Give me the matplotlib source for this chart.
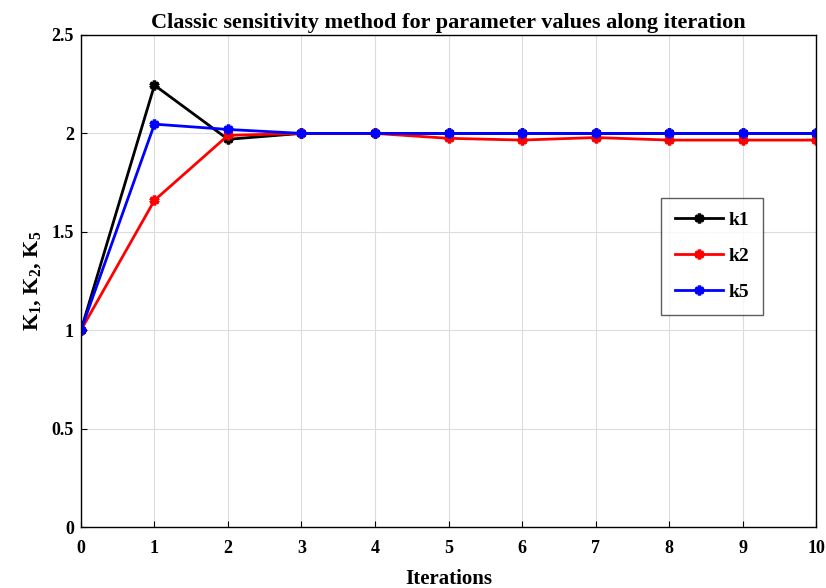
import numpy as np
import matplotlib
matplotlib.use('Agg')
import matplotlib.pyplot as plt

# 迭代次数
iterations = [0, 1, 2, 3, 4, 5, 6, 7, 8, 9, 10]
# 各参数随迭代变化的值
k1 = [1.0, 2.245, 1.97, 2.0, 2.0, 2.0, 2.0, 2.0, 2.0, 2.0, 2.0]
k2 = [1.0, 1.66, 1.99, 2.0, 2.0, 1.975, 1.966, 1.979, 1.966, 1.966, 1.966]
k5 = [1.0, 2.047, 2.02, 2.0, 2.0, 2.0, 2.0, 2.0, 2.0, 2.0, 2.0]

plt.rcParams['font.family'] = ['Liberation Serif', 'DejaVu Serif']
plt.rcParams['font.weight'] = 'bold'
plt.rcParams['mathtext.fontset'] = 'custom'
plt.rcParams['mathtext.rm'] = 'Liberation Serif:bold'
plt.rcParams['mathtext.bf'] = 'Liberation Serif:bold'
plt.rcParams['mathtext.it'] = 'Liberation Serif:bold'

fig = plt.figure(figsize=(8.26, 5.88), dpi=100)
ax = fig.add_axes([0.098, 0.1037, 0.89, 0.8368])

star = (6, 2, 0)
ax.plot(iterations, k1, color='black', lw=2, marker=star, ms=7, mew=2.5, label='k1')
ax.plot(iterations, k2, color='red', lw=2, marker=star, ms=7, mew=2.5, label='k2')
ax.plot(iterations, k5, color='blue', lw=2, marker=star, ms=7, mew=2.5, label='k5')

ax.set_xlim(0, 10)
ax.set_ylim(0, 2.5)
ax.set_xticks(range(0, 11))
ax.set_yticks([0, 0.5, 1, 1.5, 2, 2.5])
ax.set_yticklabels(['0', '0.5', '1', '1.5', '2', '2.5'])
ax.grid(True, color='#dcdcdc', lw=0.8)
ax.set_axisbelow(True)
ax.tick_params(direction='in', labelsize=13, length=4, top=False, right=False)
ax.tick_params(axis='x', pad=9)
ax.tick_params(axis='y', pad=5)
for s in ax.spines.values():
    s.set_linewidth(1.0)

ax.set_title('Classic sensitivity method for parameter values along iteration',
             fontsize=16, fontweight='bold', pad=5)
ax.set_xlabel('Iterations', fontsize=15, fontweight='bold', labelpad=9)
ax.set_ylabel('K$_1$, K$_2$, K$_5$', fontsize=16, fontweight='bold', labelpad=6)

leg = ax.legend(loc='upper left', bbox_to_anchor=(0.789, 0.669), fontsize=14,
                frameon=True, fancybox=False, edgecolor='#333333',
                handlelength=2.5, labelspacing=0.95, borderpad=0.7,
                handletextpad=0.3, borderaxespad=0)
leg.get_frame().set_linewidth(1.0)

plt.savefig('out.png', dpi=100)
